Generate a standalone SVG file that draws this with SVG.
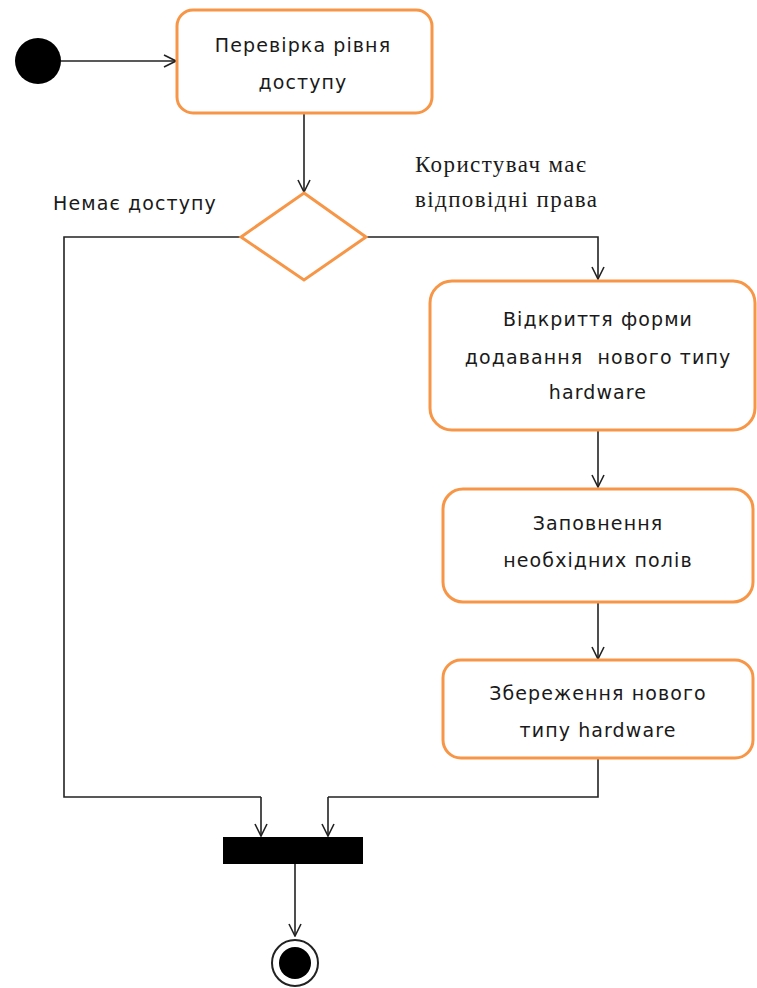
<svg xmlns="http://www.w3.org/2000/svg" width="757" height="988" viewBox="0 0 757 988">
  <style>
    .act { fill: #ffffff; stroke: #F79646; stroke-width: 3; }
    .lbl { font-family: "DejaVu Sans", Verdana, sans-serif; font-size: 19px; fill: #1a1a1a; text-anchor: middle; letter-spacing: 1.1px; }
    .guard { font-family: "Liberation Serif", "Times New Roman", serif; font-size: 23px; fill: #1a1a1a; letter-spacing: 1.4px; }
    .flow { fill: none; stroke: #222; stroke-width: 1.6; marker-end: url(#open); }
    .seg { fill: none; stroke: #222; stroke-width: 1.6; }
  </style>
  <defs>
    <marker id="open" viewBox="0 0 14 14" refX="13" refY="7" markerWidth="14" markerHeight="14" markerUnits="userSpaceOnUse" orient="auto">
      <path d="M1,1 L13,7 L1,13" fill="none" stroke="#222" stroke-width="1.6"/>
    </marker>
  </defs>
  <rect width="757" height="988" fill="#ffffff"/>

  <g id="connectors">
    <path class="flow" d="M61,61 L176,61"/>
    <path class="flow" d="M304,114 L304,192"/>
    <path class="flow" d="M366,237 L598,237 L598,279"/>
    <path class="seg" d="M241,237 L64,237 L64,797 L261,797"/>
    <path class="flow" d="M261,797 L261,836"/>
    <path class="flow" d="M598,430 L598,487"/>
    <path class="flow" d="M598,602 L598,659"/>
    <path class="seg" d="M598,758 L598,797 L328,797"/>
    <path class="flow" d="M328,797 L328,836"/>
    <path class="flow" d="M295,864 L295,936"/>
  </g>

  <g id="start">
    <circle cx="38" cy="61" r="23" fill="#000"/>
  </g>

  <g id="check-access">
    <rect class="act" x="177" y="10" width="255" height="103" rx="16"/>
    <text class="lbl" x="303" y="52">Перевірка рівня</text>
    <text class="lbl" x="303" y="89">доступу</text>
  </g>

  <g id="decision">
    <path d="M304,193 L366,237 L304,280 L241,237 Z" fill="#fff" stroke="#F79646" stroke-width="3"/>
  </g>

  <g id="guard-no">
    <text class="lbl" x="135" y="210">Немає доступу</text>
  </g>

  <g id="guard-yes">
    <text class="guard" x="415" y="172">Користувач має</text>
    <text class="guard" x="415" y="207">відповідні права</text>
  </g>

  <g id="open-form">
    <rect class="act" x="430" y="281" width="325" height="149" rx="22"/>
    <text class="lbl" x="598" y="326">Відкриття форми</text>
    <text class="lbl" x="598" y="364" style="white-space:pre">додавання  нового типу</text>
    <text class="lbl" x="598" y="399">hardware</text>
  </g>

  <g id="fill-fields">
    <rect class="act" x="443" y="489" width="310" height="113" rx="20"/>
    <text class="lbl" x="598" y="530">Заповнення</text>
    <text class="lbl" x="598" y="567">необхідних полів</text>
  </g>

  <g id="save-type">
    <rect class="act" x="443" y="660" width="310" height="98" rx="18"/>
    <text class="lbl" x="598" y="700">Збереження нового</text>
    <text class="lbl" x="598" y="737">типу hardware</text>
  </g>

  <g id="join">
    <rect x="223" y="837" width="140" height="27" fill="#000"/>
  </g>

  <g id="end">
    <circle cx="295" cy="963" r="23" fill="#fff" stroke="#222" stroke-width="2"/>
    <circle cx="295" cy="963" r="16" fill="#000"/>
  </g>
</svg>
